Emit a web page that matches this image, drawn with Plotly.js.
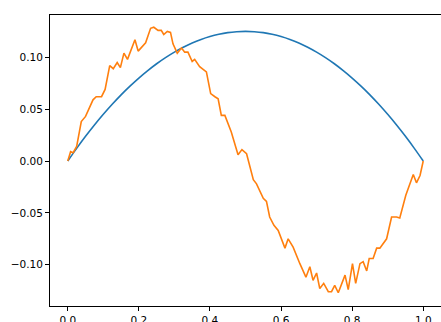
<!DOCTYPE html>
<html>
<head>
<meta charset="utf-8">
<script src="https://cdn.plot.ly/plotly-3.0.1.min.js"></script>
<style>
html,body{margin:0;padding:0;background:#fff;overflow:hidden;}
#chart{width:441px;height:322px;}
</style>
</head>
<body>
<div id="chart"></div>
<script>
// Blue smooth curve
var blueX = [0, 0.025, 0.05, 0.075, 0.1, 0.125, 0.15, 0.175, 0.2, 0.225, 0.25, 0.275, 0.3, 0.325, 0.35, 0.375, 0.4, 0.425, 0.45, 0.475, 0.5, 0.525, 0.55, 0.575, 0.6, 0.625, 0.65, 0.675, 0.7, 0.725, 0.75, 0.775, 0.8, 0.825, 0.85, 0.875, 0.9, 0.925, 0.95, 0.975, 1.0];
var blueY = [0, 0.0122, 0.0238, 0.0347, 0.045, 0.0547, 0.0638, 0.0722, 0.080, 0.0872, 0.0938, 0.0997, 0.105, 0.1097, 0.1138, 0.1172, 0.120, 0.1222, 0.1238, 0.1247, 0.125, 0.1247, 0.1238, 0.1222, 0.120, 0.1172, 0.1138, 0.1097, 0.105, 0.0997, 0.0938, 0.0872, 0.080, 0.0722, 0.0638, 0.0547, 0.045, 0.0347, 0.0238, 0.0122, 0];

// Orange noisy curve
var orangeX = [0, 0.008, 0.015, 0.025, 0.038, 0.05, 0.071, 0.08, 0.095, 0.105, 0.118, 0.128, 0.139, 0.148, 0.158, 0.168, 0.189, 0.198, 0.219, 0.233, 0.242, 0.254, 0.263, 0.27, 0.28, 0.289, 0.296, 0.308, 0.32, 0.329, 0.338, 0.35, 0.357, 0.371, 0.39, 0.402, 0.414, 0.423, 0.432, 0.442, 0.46, 0.479, 0.49, 0.503, 0.522, 0.531, 0.55, 0.559, 0.568, 0.58, 0.592, 0.611, 0.62, 0.634, 0.653, 0.67, 0.681, 0.69, 0.7, 0.709, 0.72, 0.733, 0.742, 0.751, 0.761, 0.78, 0.789, 0.801, 0.81, 0.822, 0.831, 0.841, 0.848, 0.859, 0.869, 0.878, 0.897, 0.911, 0.925, 0.934, 0.951, 0.972, 0.981, 0.991, 1.0];
var orangeY = [0, 0.009, 0.008, 0.014, 0.038, 0.043, 0.059, 0.062, 0.062, 0.069, 0.092, 0.089, 0.095, 0.090, 0.104, 0.098, 0.117, 0.106, 0.114, 0.128, 0.129, 0.126, 0.126, 0.122, 0.125, 0.124, 0.113, 0.104, 0.109, 0.105, 0.105, 0.096, 0.098, 0.091, 0.086, 0.065, 0.062, 0.060, 0.044, 0.044, 0.028, 0.006, 0.011, 0.007, -0.018, -0.022, -0.036, -0.039, -0.054, -0.062, -0.067, -0.084, -0.075, -0.083, -0.099, -0.112, -0.102, -0.115, -0.108, -0.123, -0.118, -0.126, -0.126, -0.120, -0.127, -0.110, -0.124, -0.099, -0.118, -0.099, -0.097, -0.106, -0.094, -0.094, -0.084, -0.084, -0.075, -0.054, -0.054, -0.055, -0.033, -0.013, -0.021, -0.014, 0];

var xTicks = [0, 0.2, 0.4, 0.6, 0.8, 1.0];
var xTickText = ["0.0", "0.2", "0.4", "0.6", "0.8", "1.0"];
var yTicks = [-0.10, -0.05, 0, 0.05, 0.10];
var yTickText = ["\u22120.10", "\u22120.05", "0.00", "0.05", "0.10"];

var traces = [
  {x: blueX, y: blueY, type: 'scatter', mode: 'lines', line: {color: '#1f77b4', width: 1.6, shape: 'spline'}, hoverinfo: 'skip'},
  {x: orangeX, y: orangeY, type: 'scatter', mode: 'lines', line: {color: '#ff7f0e', width: 1.6}, hoverinfo: 'skip'}
];

var layout = {
  width: 441, height: 322,
  margin: {l: 50, r: 0, t: 15, b: 16, pad: 0},
  paper_bgcolor: '#fff', plot_bgcolor: '#fff',
  showlegend: false,
  font: {family: 'DejaVu Sans', size: 10.5, color: '#000'},
  xaxis: {
    range: [-0.05, 1.05], tickvals: xTicks, ticktext: xTickText,
    showgrid: false, zeroline: false, showline: true, mirror: true,
    linecolor: '#000', linewidth: 1, ticks: 'outside', ticklen: 4, tickwidth: 1, tickcolor: '#000'
  },
  yaxis: {
    range: [-0.1398, 0.1408], tickvals: yTicks, ticktext: yTickText,
    showgrid: false, zeroline: false, showline: true, mirror: false,
    linecolor: '#000', linewidth: 1, ticks: 'outside', ticklen: 4, tickwidth: 1, tickcolor: '#000'
  }
};

Plotly.newPlot('chart', traces, layout, {displayModeBar: false, staticPlot: true});
</script>
</body>
</html>
